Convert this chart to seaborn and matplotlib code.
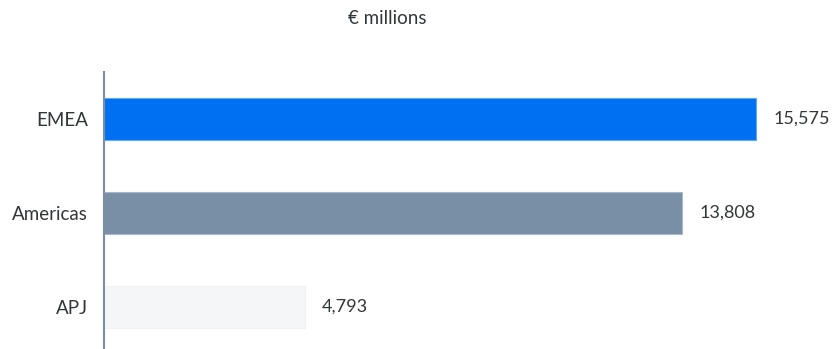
import matplotlib
matplotlib.use("Agg")
import matplotlib.pyplot as plt
import seaborn as sns
import pandas as pd

regions = ["EMEA", "Americas", "APJ"]
revenue = [15575, 13808, 4793]
colors = ["#0070F2", "#788FA6", "#F5F6F7"]
edge_colors = ["#5FA8F8", "#A9B8C8", "#F0F1F3"]
title = "€ millions"

sns.set_theme(style="white")
plt.rcParams["font.family"] = ["Lato", "DejaVu Sans"]
text_color = "#32363A"

df = pd.DataFrame({"region": regions, "revenue": revenue})

fig = plt.figure(figsize=(8.34, 3.49), dpi=100)
ax = fig.add_axes([104 / 834, 0, 730 / 834, 277 / 349])

sns.barplot(data=df, x="revenue", y="region", hue="region", palette=colors,
            legend=False, width=42 / 94, ax=ax, orient="h", saturation=1)

for p, ec in zip(ax.patches, edge_colors):
    p.set_edgecolor(ec)
    p.set_linewidth(0.8)

for c in ax.containers:
    ax.bar_label(c, labels=[f"{v:,.0f}" for v in c.datavalues], padding=12.5,
                 fontsize=13, color=text_color)

ax.set_xlim(0, 730 / 0.04186)
ax.set_ylim(2 + 42 / 94, -0.5)
ax.set_xlabel("")
ax.set_ylabel("")
ax.set_xticks([])
for s in ["top", "right", "bottom"]:
    ax.spines[s].set_visible(False)
ax.spines["left"].set_color("#7A8DA3")
ax.spines["left"].set_linewidth(1.5)
ax.tick_params(axis="y", length=0, pad=11.5, labelsize=13.5, labelcolor=text_color)

fig.text(387 / 834, 1 - 18 / 349, title, ha="center", va="center",
         fontsize=13.5, color=text_color)

fig.savefig("out.png", dpi=100)
